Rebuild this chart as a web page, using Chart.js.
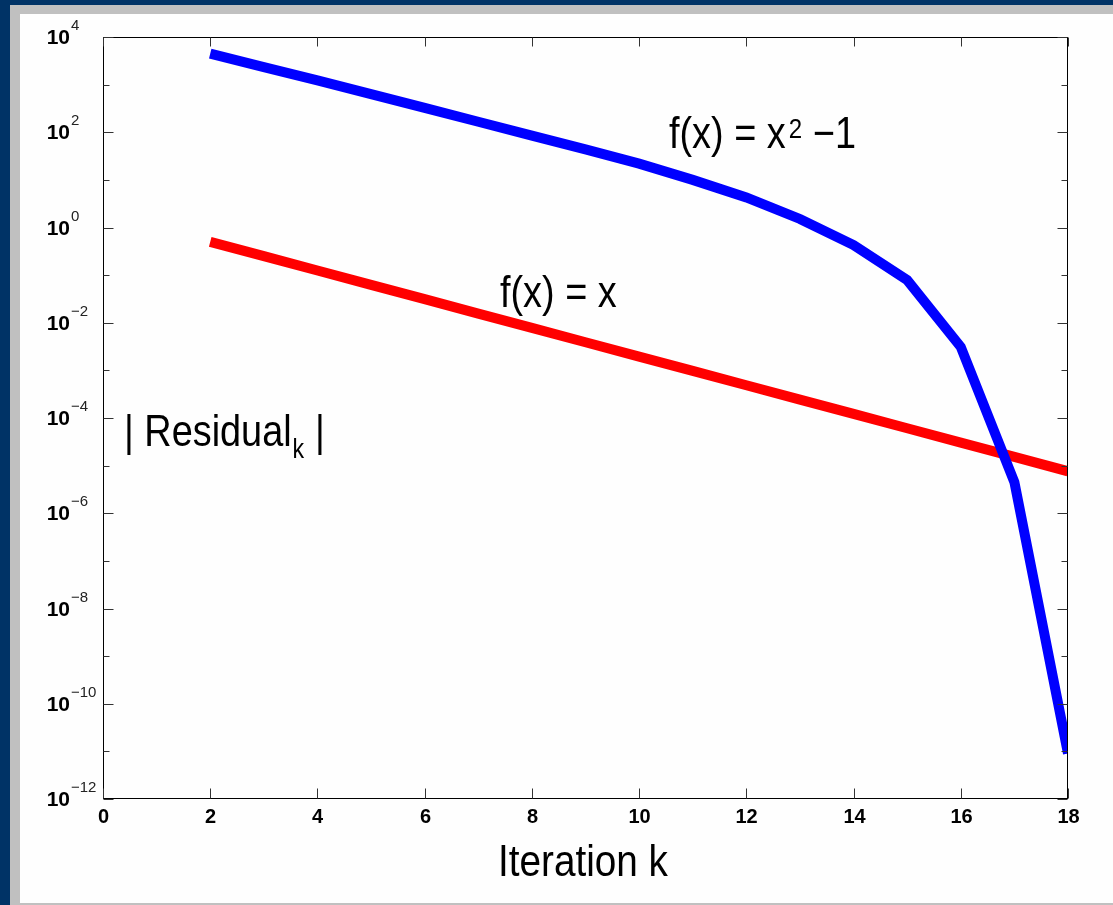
<!DOCTYPE html>
<html>
<head>
<meta charset="utf-8">
<script src="https://cdn.jsdelivr.net/npm/chart.js@4/dist/chart.umd.min.js"></script>
<style>
  body { margin: 0; background: #003366; width: 1113px; height: 905px; overflow: hidden; }
  .frame { position: absolute; left: 10px; top: 5px; width: 1103px; height: 900px; background: #c0c0c0; }
  .panel { position: absolute; left: 20px; top: 14px; width: 1093px; height: 889px; background: #fefefe; }
  #residualChart { position: absolute; left: 0; top: 0; }
</style>
</head>
<body>
<div class="frame"></div>
<div class="panel"></div>
<canvas id="residualChart" width="1113" height="905"></canvas>
<script>
// iterations and residuals
const iterations = [2, 3, 4, 5, 6, 7, 8, 9, 10, 11, 12, 13, 14, 15, 16, 17, 18];
const residualQuadratic = [4470, 2340, 1230, 631, 324, 166, 85, 43.7, 21.9, 10, 4.27, 1.51, 0.427, 0.079, 0.0031, 4.5e-6, 9e-12];
const residualLinear = [0.5, 0.25, 0.125, 0.0625, 0.03125, 0.0156, 0.0078, 0.0039, 0.00195, 9.77e-4, 4.88e-4, 2.44e-4, 1.22e-4, 6.1e-5, 3.05e-5, 1.53e-5, 7.6e-6];
const xTicks = [0, 2, 4, 6, 8, 10, 12, 14, 16, 18];
const yExponents = [4, 3, 2, 1, 0, -1, -2, -3, -4, -5, -6, -7, -8, -9, -10, -11, -12];

const FONT = '"Liberation Sans", Arial, sans-serif';

function toPoints(ys) {
    return iterations.map((k, i) => ({ x: k, y: ys[i] }));
}

// draws text squeezed horizontally, returns the advance width
function squeezed(ctx, str, x, y, size, sx, weight) {
    ctx.save();
    ctx.font = (weight || 'normal') + ' ' + size + 'px ' + FONT;
    ctx.translate(x, y);
    ctx.scale(sx, 1);
    ctx.fillText(str, 0, 0);
    const w = ctx.measureText(str).width * sx;
    ctx.restore();
    return w;
}

const axesPlugin = {
    id: 'axesPlugin',
    afterDraw(chart) {
        const ctx = chart.ctx;
        const a = chart.chartArea;
        const xs = chart.scales.x, ys = chart.scales.y;
        const L = Math.round(a.left) + 0.5, R = Math.round(a.right) - 0.5;
        const T = Math.round(a.top) + 0.5, B = Math.round(a.bottom) - 0.5;

        ctx.save();
        ctx.strokeStyle = '#000';
        ctx.lineWidth = 1;
        ctx.strokeRect(L, T, R - L, B - T);

        // x ticks, top and bottom, pointing inward
        ctx.strokeStyle = '#333';
        ctx.fillStyle = '#000';
        ctx.textAlign = 'center';
        ctx.textBaseline = 'middle';
        ctx.font = 'bold 20px ' + FONT;
        xTicks.forEach(v => {
            const px = Math.round(xs.getPixelForValue(v)) + 0.5;
            ctx.beginPath();
            ctx.moveTo(px, B); ctx.lineTo(px, B - 10);
            ctx.moveTo(px, T); ctx.lineTo(px, T + 9);
            ctx.stroke();
            ctx.fillText(String(v), px, B + 19);
        });

        // y ticks and 10^n labels
        yExponents.forEach(e => {
            const py = Math.round(ys.getPixelForValue(Math.pow(10, e))) + 0.5;
            const len = e % 2 === 0 ? 10 : 6;
            ctx.beginPath();
            ctx.moveTo(L, py); ctx.lineTo(L + len, py);
            ctx.moveTo(R, py); ctx.lineTo(R - len, py);
            ctx.stroke();
            if (e % 2 === 0) {
                ctx.textAlign = 'right';
                ctx.textBaseline = 'middle';
                ctx.font = 'bold 21px ' + FONT;
                ctx.fillText('10', 70, py + 1);
                ctx.textAlign = 'left';
                ctx.font = '15px ' + FONT;
                ctx.fillStyle = '#222';
                ctx.fillText(e < 0 ? '\u2212' + (-e) : String(e), 71, py - 12);
                ctx.fillStyle = '#000';
            }
        });

        // titles and curve labels
        ctx.textAlign = 'left';
        ctx.textBaseline = 'alphabetic';
        ctx.fillStyle = '#000';

        let x = 124;
        x += squeezed(ctx, '| Residual', x, 446, 44, 0.86);
        squeezed(ctx, 'k', x + 1, 458, 27, 0.86);
        squeezed(ctx, '|', 315, 446, 44, 0.86);

        ctx.save();
        ctx.font = '45px ' + FONT;
        const tw = ctx.measureText('Iteration k').width * 0.86;
        ctx.restore();
        squeezed(ctx, 'Iteration k', 583 - tw / 2, 876, 45, 0.86);

        x = 669;
        x += squeezed(ctx, 'f(x) = x', x, 148, 44, 0.86);
        squeezed(ctx, '2', x + 3, 138, 28, 0.86);
        squeezed(ctx, '\u22121', 813, 148, 44, 0.86);

        squeezed(ctx, 'f(x) = x', 500, 307, 44, 0.86);
        ctx.restore();
    }
};

new Chart(document.getElementById('residualChart').getContext('2d'), {
    type: 'line',
    data: {
        datasets: [
            {
                label: 'f(x) = x^2 - 1',
                data: toPoints(residualQuadratic),
                borderColor: '#0000ff',
                borderWidth: 10,
                pointRadius: 0,
                tension: 0,
                clip: 0
            },
            {
                label: 'f(x) = x',
                data: toPoints(residualLinear),
                borderColor: '#ff0000',
                borderWidth: 10,
                pointRadius: 0,
                tension: 0,
                clip: 0
            }
        ]
    },
    options: {
        responsive: false,
        animation: false,
        layout: { padding: { left: 103, right: 45, top: 37, bottom: 106 } },
        plugins: { legend: { display: false }, tooltip: { enabled: false } },
        scales: {
            x: { type: 'linear', min: 0, max: 18, display: false },
            y: { type: 'logarithmic', min: 1e-12, max: 1e4, display: false }
        }
    },
    plugins: [axesPlugin]
});
</script>
</body>
</html>
